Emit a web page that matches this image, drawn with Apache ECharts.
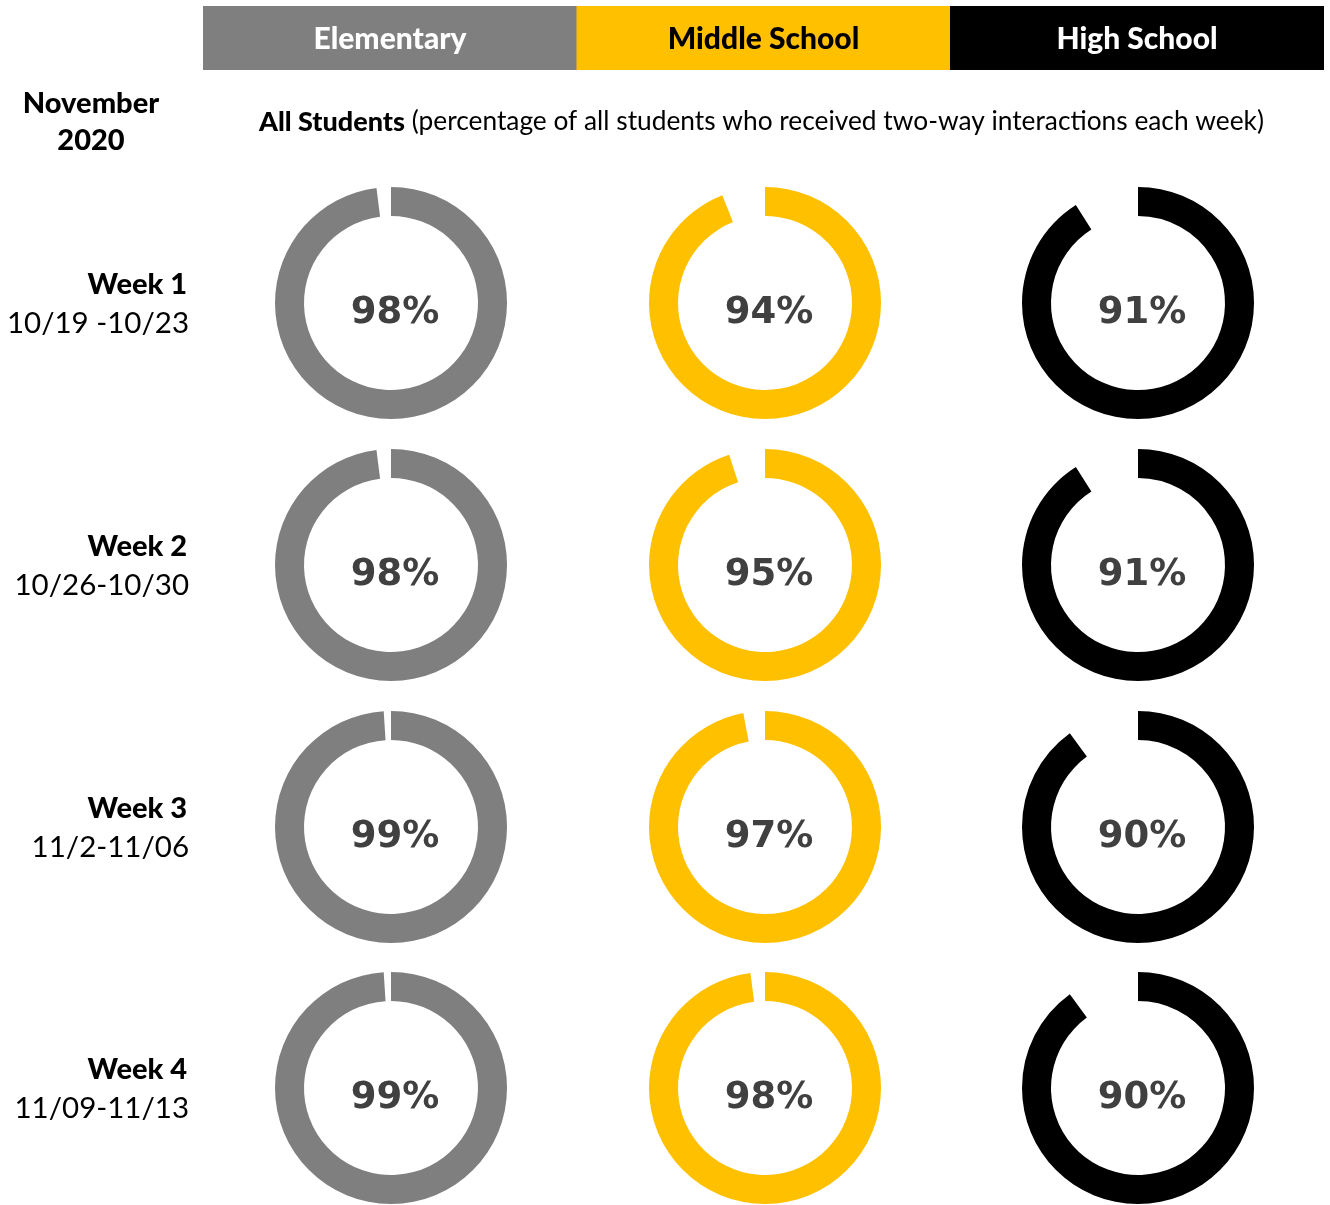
<!DOCTYPE html>
<html>
<head>
<meta charset="utf-8">
<script src="https://cdn.jsdelivr.net/npm/echarts@6/dist/echarts.min.js"></script>
<style>
  html, body { margin: 0; padding: 0; background: #fff; }
  #main { width: 1330px; height: 1205px; }
</style>
</head>
<body>
<div id="main"></div>
<script>
  // levels (columns) and weeks (rows)
  var levels = ['Elementary', 'Middle School', 'High School'];
  var levelColors = ['#7f7f7f', '#ffc000', '#000000'];
  var levelTextColors = ['#ffffff', '#000000', '#ffffff'];
  var weeks = ['Week 1', 'Week 2', 'Week 3', 'Week 4'];
  var weekDates = ['10/19 -10/23', '10/26-10/30', '11/2-11/06', '11/09-11/13'];

  // percentage of students with two-way interactions, one array per level
  var elementary = [98, 98, 99, 99];
  var middleSchool = [94, 95, 97, 98];
  var highSchool = [91, 91, 90, 90];
  var values = [elementary, middleSchool, highSchool];

  var myChart = echarts.init(document.getElementById('main'));

  var colX = [391, 765, 1138],
    rowY = [303, 565, 827, 1088],
    font = 'Lato, "Open Sans", sans-serif';

  var series = [], graphic = [];

  // header boxes
  levels.forEach(function (lv, i) {
    graphic.push({
      type: 'rect',
      shape: { x: 203 + i * 373.5, y: 6, width: 374, height: 64 },
      style: { fill: levelColors[i] }
    });
    graphic.push({
      type: 'text',
      x: 203 + i * 373.5 + 187, y: 39,
      style: {
        text: lv, fill: levelTextColors[i], font: '900 30px ' + font,
        textAlign: 'center', textVerticalAlign: 'middle'
      }
    });
  });

  graphic.push({
    type: 'text', x: 91, y: 122,
    style: {
      text: 'November\n2020', fill: '#000', font: '900 29px ' + font,
      textAlign: 'center', textVerticalAlign: 'middle', lineHeight: 37
    }
  });
  graphic.push({
    type: 'text', x: 259, y: 122,
    style: {
      text: '{b|All Students}{n| (percentage of all students who received two-way interactions each week)}',
      rich: {
        b: { font: '900 27px ' + font, fill: '#000' },
        n: { font: '26.3px ' + font, fill: '#000' }
      },
      textVerticalAlign: 'middle'
    }
  });

  weeks.forEach(function (w, r) {
    graphic.push({
      type: 'text', x: 187, y: rowY[r] - 18,
      style: { text: w, fill: '#000', font: '900 29px ' + font, textAlign: 'right', textVerticalAlign: 'middle' }
    });
    graphic.push({
      type: 'text', x: 189, y: rowY[r] + 20,
      style: { text: weekDates[r], fill: '#000', font: '29.5px ' + font, textAlign: 'right', textVerticalAlign: 'middle' }
    });
  });

  values.forEach(function (arr, c) {
    arr.forEach(function (v, r) {
      series.push({
        type: 'pie',
        center: [colX[c], rowY[r]],
        radius: [87, 116],
        startAngle: 90,
        clockwise: true,
        silent: true,
        animation: false,
        avoidLabelOverlap: false,
        label: { show: false },
        labelLine: { show: false },
        data: [
          {
            value: v,
            itemStyle: { color: levelColors[c] },
            label: {
              show: true, position: 'center', formatter: v + '%',
              fontFamily: '"DejaVu Sans", sans-serif', fontWeight: 'bold', fontSize: 37,
              color: '#404040', offset: [4, 10]
            }
          },
          { value: 100 - v, itemStyle: { color: 'rgba(0,0,0,0)' }, label: { show: false } }
        ]
      });
    });
  });

  myChart.setOption({
    animation: false,
    graphic: graphic,
    series: series
  });
</script>
</body>
</html>
